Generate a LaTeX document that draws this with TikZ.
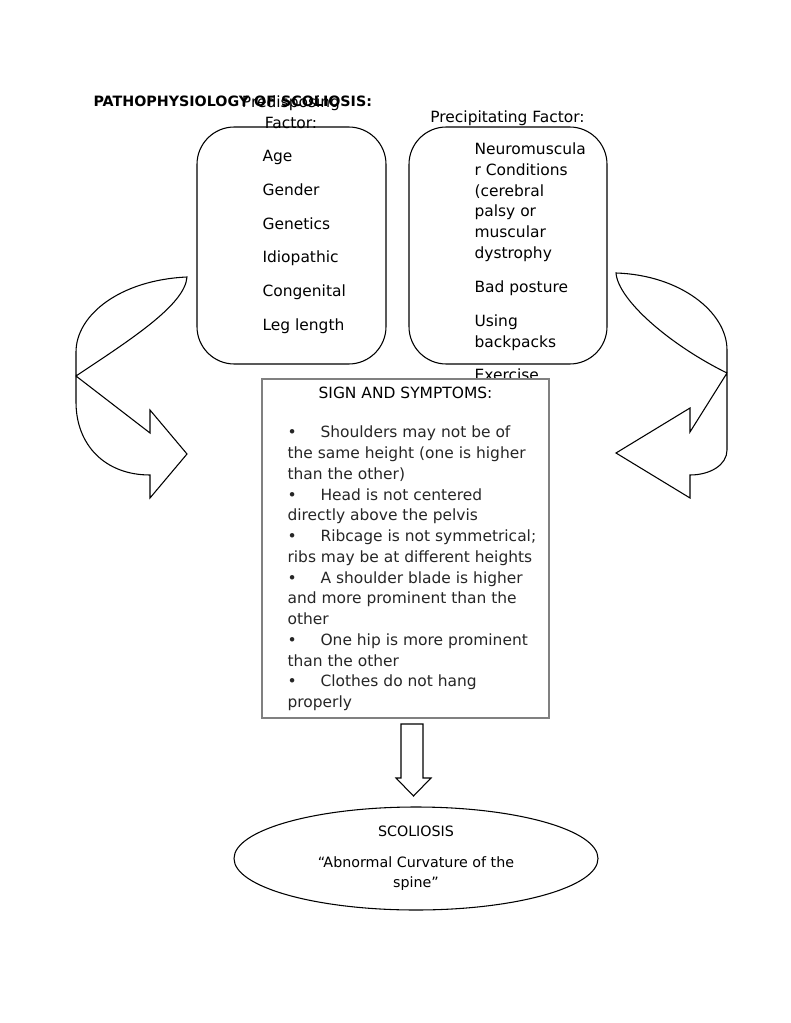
\documentclass[tikz,border=0pt]{standalone}
\usepackage{fontspec}
\setmainfont{DejaVu Sans}
\usetikzlibrary{shapes.geometric, positioning}

\newcommand{\symbul}{\makebox[24.75pt][l]{\textbullet}}

\tikzset{
  txt/.style={inner sep=0pt, font=\fontsize{11.6pt}{15.55pt}\selectfont},
  heading/.style={inner sep=0pt, font=\fontsize{10.7pt}{14pt}\selectfont\bfseries},
  factorbox/.style={draw, rounded corners=28pt, minimum height=177.75pt},
  signbox/.style={draw=gray, fill=white, minimum width=215.25pt, minimum height=254.25pt},
  resultshape/.style={draw, ellipse, inner sep=0pt, minimum width=273pt, minimum height=77.25pt,
    align=center, font=\fontsize{10.7pt}{15pt}\selectfont},
}

\begin{document}
\begin{tikzpicture}[x=0.75pt, y=-0.75pt, line width=0.8pt]
  \useasboundingbox (0,0) rectangle (791,1023);

  % curved arrows at the sides
  \draw (187,277) .. controls (120,280) and (76,315) .. (76,352) -- (76,402)
    .. controls (76,445) and (105,475) .. (150,475) -- (150,498) -- (187,454)
    -- (150,410) -- (150,433) -- (76,376) .. controls (130,340) and (185,305) .. (187,277) -- cycle;
  \draw (616,273) .. controls (680,275) and (727,312) .. (727,350) -- (727,450)
    .. controls (727,465) and (710,475) .. (690,475) -- (690,498) -- (616,453)
    -- (690,408) -- (690,432) -- (727,373) .. controls (670,345) and (618,300) .. (616,273) -- cycle;

  % factor boxes
  \node[factorbox, minimum width=141.75pt] (predbox) at (291.5,245.5) {};
  \node[factorbox, minimum width=148.5pt] (precbox) at (508,245.5) {};

  \node[heading, anchor=base west] (title) at (93,106.7) {PATHOPHYSIOLOGY OF SCOLIOSIS:};
  \node[txt, align=center, anchor=north] (predlabel) at (291,95.5) {Predisposing\\Factor:};
  \node[txt, anchor=base] (preclabel) at (507.5,122.5) {Precipitating Factor:};

  \node[txt, anchor=base west] (age) at (262,162) {Age};
  \node[txt, anchor=base west] (gender) at (262,195.6) {Gender};
  \node[txt, anchor=base west] (genetics) at (262,229.2) {Genetics};
  \node[txt, anchor=base west] (idio) at (262,262.8) {Idiopathic};
  \node[txt, anchor=base west] (cong) at (262,296.4) {Congenital};
  \node[txt, anchor=base west] (leg) at (262,330) {Leg length};

  \node[txt, align=left, anchor=north west] (neuro) at (474,142.5)
    {Neuromuscula\\r Conditions\\(cerebral\\palsy or\\muscular\\dystrophy};
  \node[txt, anchor=base west] (posture) at (474,292.5) {Bad posture};
  \node[txt, align=left, anchor=north west] (backpack) at (474,314.7) {Using\\backpacks};
  \node[txt, anchor=base west] (exercise) at (474,380.5) {Exercise};

  % signs and symptoms
  \node[signbox] (signs) at (405.5,548.5) {};
  \node[txt, anchor=base] (signtitle) at (405.5,398.3) {SIGN AND SYMPTOMS:};
  \node[txt, align=left, anchor=north west, text=black!85] (signlist) at (287,425.7)
    {\symbul Shoulders may not be of\\
     the same height (one is higher\\
     than the other)\\
     \symbul Head is not centered\\
     directly above the pelvis\\
     \symbul Ribcage is not symmetrical;\\
     ribs may be at different heights\\
     \symbul A shoulder blade is higher\\
     and more prominent than the\\
     other\\
     \symbul One hip is more prominent\\
     than the other\\
     \symbul Clothes do not hang\\
     properly};

  % block arrow down
  \draw (401,724) -- (423,724) -- (423,778) -- (431,778) -- (413.5,796)
    -- (396,778) -- (401,778) -- cycle;

  \node[resultshape] (result) at (416,858.5)
    {SCOLIOSIS\\[8.5pt]“Abnormal Curvature of the\\spine”};
\end{tikzpicture}
\end{document}
